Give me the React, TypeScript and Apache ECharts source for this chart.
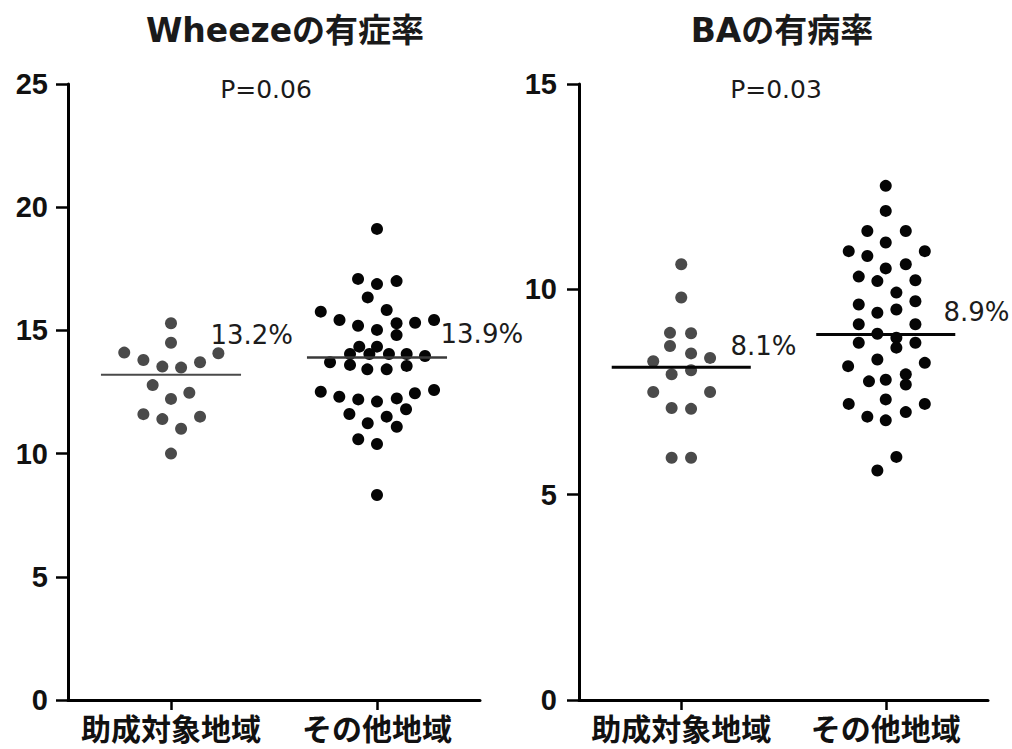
import React, { useEffect, useRef } from "react";
import * as echarts from "echarts";

// Region categories shared by both panels
const CATEGORIES = ["助成対象地域", "その他地域"];

// Panel titles and significance notes
const TITLES = ["Wheezeの有症率", "BAの有病率"];
const P_VALUES = ["P=0.06", "P=0.03"];

// Y-axis ranges (0..max, step 5)
const Y_MAX = [25, 15];
const Y_STEP = 5;

// Wheeze prevalence (%) per area — subsidized areas
const WHEEZE_SUB = [15.29, 14.5, 14.1, 13.8, 14.07, 13.53, 13.49, 13.71, 12.78, 12.47, 12.22, 11.6, 11.4, 11.5, 11.01, 10.0];
const WHEEZE_SUB_JITTER = [0, 0, -0.227, -0.134, 0.23, -0.042, 0.049, 0.141, -0.089, 0.089, 0, -0.134, -0.042, 0.141, 0.049, 0];

// Wheeze prevalence (%) per area — other areas
const WHEEZE_OTHER = [
  19.12, 17.09, 16.88, 17.0, 16.34, 15.76, 15.83, 15.42, 15.19, 15.02, 15.29, 14.81, 15.31, 15.42,
  14.34, 14.34, 14.04, 14.04, 14.04, 13.6, 13.71, 13.42, 13.42, 14.04, 13.56, 13.96,
  12.51, 12.31, 12.2, 12.11, 12.24, 12.45, 12.58, 11.8, 11.61, 11.5, 11.23, 11.09, 10.58, 10.39, 8.32,
];
const WHEEZE_OTHER_JITTER = [
  0, -0.092, 0, 0.095, -0.045, -0.273, 0.047, -0.182, -0.092, 0, 0.095, 0.095, 0.185, 0.277,
  -0.086, 0, -0.037, 0.058, -0.131, -0.131, -0.228, -0.047, 0.047, 0.144, 0.144, 0.233,
  -0.273, -0.183, -0.091, 0, 0.096, 0.184, 0.277, 0.141, -0.134, 0.047, -0.045, 0.096, -0.091, 0, 0,
];

// BA prevalence (%) per area — subsidized areas
const BA_SUB = [10.61, 9.8, 8.94, 8.93, 8.62, 8.44, 8.25, 8.33, 7.93, 8.03, 7.5, 7.5, 7.11, 7.09, 5.9, 5.9];
const BA_SUB_JITTER = [0, 0, -0.055, 0.048, -0.055, 0.048, -0.137, 0.141, -0.047, 0.048, -0.137, 0.141, -0.047, 0.048, -0.047, 0.048];

// BA prevalence (%) per area — other areas
const BA_OTHER = [
  12.52, 11.91, 11.42, 11.42, 11.14, 10.93, 10.81, 10.93, 10.51, 10.61, 10.31, 10.2, 10.22, 9.92,
  9.63, 9.43, 9.51, 9.71, 9.15, 8.7, 8.92, 8.82, 8.58, 9.15, 8.7,
  8.29, 8.13, 8.21, 7.76, 7.8, 7.93, 7.68, 7.21, 7.32, 7.21, 6.9, 6.81, 7.01, 5.92, 5.59,
];
const BA_OTHER_JITTER = [
  0, 0, -0.09, 0.098, 0, -0.181, -0.09, 0.191, 0, 0.098, -0.132, -0.041, 0.145, 0.052,
  -0.132, -0.041, 0.052, 0.145, -0.132, -0.132, -0.041, 0.052, 0.052, 0.145, 0.145,
  -0.041, -0.184, 0.191, -0.082, 0, 0.098, 0.098, -0.181, 0, 0.191, -0.09, 0, 0.098, 0.052, -0.041,
];

// Group means (%), shown as horizontal bars with labels
const WHEEZE_MEANS = [13.2, 13.9];
const BA_MEANS = [8.1, 8.9];

// Layout (pixels / data-space offsets for annotations)
const GRIDS = [
  { left: 68, top: 84, width: 412, height: 616 },
  { left: 579, top: 84, width: 409, height: 616 },
];
const MEAN_HALF_WIDTH = 0.34;
const MEAN_LABEL_OFFSET = [
  [[0.189, 1.61], [0.306, 0.95]],
  [[0.238, 0.53], [0.28, 0.54]],
];
const TITLE_CENTERS = [285, 782];
const P_CENTERS = [266, 776];

const GREY = "#4a4a4a";
const BLACK = "#050505";
const LATIN_CJK = "'DejaVu Sans', 'Noto Sans CJK JP', sans-serif";
const CJK = "'Noto Sans CJK JP', sans-serif";

function points(values: number[], jitter: number[], center: number) {
  return values.map((v, i) => [center + jitter[i], v]);
}

function buildOption() {
  const panels = [
    { groups: [[WHEEZE_SUB, WHEEZE_SUB_JITTER], [WHEEZE_OTHER, WHEEZE_OTHER_JITTER]], means: WHEEZE_MEANS, lineColors: [GREY, "#3a3a3a"], lineWidths: [2, 2.5] },
    { groups: [[BA_SUB, BA_SUB_JITTER], [BA_OTHER, BA_OTHER_JITTER]], means: BA_MEANS, lineColors: [BLACK, BLACK], lineWidths: [3, 3] },
  ];
  const dotColors = [GREY, BLACK];

  const xAxis: any[] = [];
  const yAxis: any[] = [];
  const series: any[] = [];

  panels.forEach((panel, p) => {
    xAxis.push({
      type: "category",
      gridIndex: p,
      data: CATEGORIES,
      boundaryGap: true,
      axisLine: { onZero: false, lineStyle: { color: "#000", width: 3 } },
      axisTick: { show: true, interval: 0, alignWithLabel: true, length: 10, lineStyle: { color: "#000", width: 2.5 } },
      axisLabel: { interval: 0, fontFamily: CJK, fontWeight: "bold", fontSize: 30, color: "#111", margin: 12 },
      splitLine: { show: false },
    });
    xAxis.push({ type: "value", gridIndex: p, min: 0.5, max: 2.5, show: false });
    yAxis.push({
      type: "value",
      gridIndex: p,
      min: 0,
      max: Y_MAX[p],
      interval: Y_STEP,
      axisLine: { show: true, onZero: false, lineStyle: { color: "#000", width: 3 } },
      axisTick: { show: true, length: 12, lineStyle: { color: "#000", width: 2.5 } },
      axisLabel: { fontFamily: "'Liberation Sans', Arial, sans-serif", fontWeight: "bold", fontSize: 29, color: "#111", margin: p === 0 ? 20 : 22 },
      splitLine: { show: false },
    });

    const valueX = p * 2 + 1;
    panel.groups.forEach(([vals, jit], g) => {
      const center = g + 1;
      series.push({
        type: "scatter",
        xAxisIndex: valueX,
        yAxisIndex: p,
        symbol: "circle",
        symbolSize: 12,
        itemStyle: { color: dotColors[g], opacity: 1 },
        data: points(vals as number[], jit as number[], center),
        z: 2,
      });
      const m = panel.means[g];
      series.push({
        type: "line",
        xAxisIndex: valueX,
        yAxisIndex: p,
        symbol: "none",
        lineStyle: { color: panel.lineColors[g], width: panel.lineWidths[g] },
        data: [[center - MEAN_HALF_WIDTH, m], [center + MEAN_HALF_WIDTH, m]],
        z: 3,
      });
      const [dx, dy] = MEAN_LABEL_OFFSET[p][g];
      series.push({
        type: "scatter",
        xAxisIndex: valueX,
        yAxisIndex: p,
        symbolSize: 1,
        itemStyle: { color: "rgba(0,0,0,0)", opacity: 1 },
        data: [[center + dx, m + dy]],
        label: {
          show: true,
          position: "right",
          distance: 0,
          formatter: () => `${m.toFixed(1)}%`,
          fontFamily: LATIN_CJK,
          fontSize: 26,
          color: "#1c1c1c",
          opacity: 1,
        },
        z: 4,
      });
    });
  });

  const title: any[] = [];
  TITLES.forEach((t, p) => {
    title.push({
      text: t,
      left: TITLE_CENTERS[p],
      top: 14,
      textAlign: "center",
      padding: 0,
      textStyle: { fontFamily: LATIN_CJK, fontWeight: "bold", fontSize: 33, color: "#1a1a1a" },
    });
    title.push({
      text: P_VALUES[p],
      left: P_CENTERS[p],
      top: 77,
      textAlign: "center",
      padding: 0,
      textStyle: { fontFamily: LATIN_CJK, fontWeight: "normal", fontSize: 25, color: "#1a1a1a" },
    });
  });

  return {
    animation: false,
    backgroundColor: "#fff",
    title,
    grid: GRIDS.map((g) => ({ ...g, containLabel: false })),
    xAxis,
    yAxis,
    series,
  };
}

export default function App() {
  const ref = useRef<HTMLDivElement>(null);
  useEffect(() => {
    if (!ref.current) return;
    const chart = echarts.init(ref.current, undefined, { renderer: "svg" });
    chart.setOption(buildOption());
    return () => chart.dispose();
  }, []);
  return (
    <div
      ref={ref}
      style={{ position: "absolute", left: 0, top: 0, width: 1012, height: 749, background: "#fff" }}
    />
  );
}
